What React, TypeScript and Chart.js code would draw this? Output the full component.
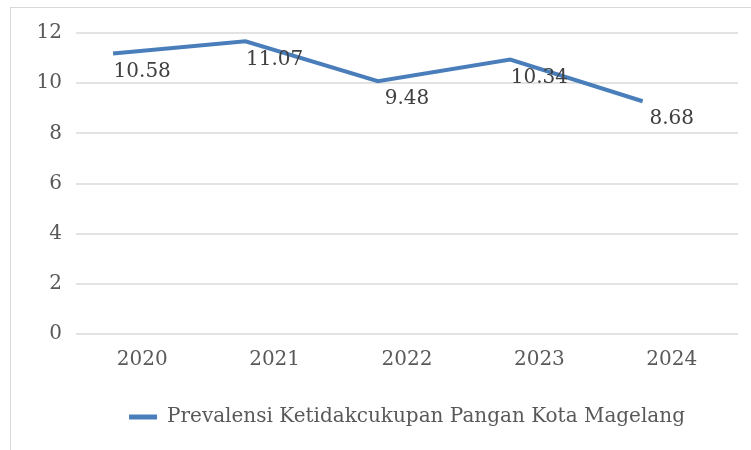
import React, { useEffect, useRef } from "react";
import { Chart, registerables } from "chart.js";

Chart.register(...registerables);

const categories = ["2020", "2021", "2022", "2023", "2024"];
const values = [10.58, 11.07, 9.48, 10.34, 8.68];
const valueLabels = ["10.58", "11.07", "9.48", "10.34", "8.68"];
const yTicks = [0, 2, 4, 6, 8, 10, 12];
const seriesName = "Prevalensi Ketidakcukupan Pangan Kota Magelang";

// In the source image the drawn line is offset from the data labels
const lineShiftY = 0.6;
const lineShiftX = 0.22;

const FONT = "'DejaVu Serif', serif";
const FONT_SIZE = 20;

export default function App() {
  const ref = useRef<HTMLCanvasElement | null>(null);
  useEffect(() => {
    const canvas = ref.current;
    if (!canvas) return;
    const framePlugin = {
      id: "frame",
      beforeDraw(chart: any) {
        const ctx = chart.ctx;
        ctx.save();
        ctx.fillStyle = "#ffffff";
        ctx.fillRect(0, 0, chart.width, chart.height);
        ctx.strokeStyle = "#d9d9d9";
        ctx.lineWidth = 1;
        ctx.strokeRect(10.5, 7.5, 900, 600);
        ctx.restore();
      },
    };
    const labelPlugin = {
      id: "valueLabels",
      afterDatasetsDraw(chart: any) {
        const ctx = chart.ctx;
        const xs = chart.scales.x;
        const ys = chart.scales.y;
        ctx.save();
        ctx.font = `${FONT_SIZE}px ${FONT}`;
        ctx.fillStyle = "#404040";
        ctx.textAlign = "center";
        ctx.textBaseline = "middle";
        values.forEach((v, i) => {
          ctx.fillText(valueLabels[i], xs.getPixelForValue(i), ys.getPixelForValue(v) + 3);
        });
        ctx.restore();
      },
    };
    const chart = new Chart(canvas, {
      type: "line",
      data: {
        labels: categories,
        datasets: [
          {
            label: seriesName,
            data: values.map((v, i) => ({ x: i, y: v })),
            xAxisID: "x2",
            yAxisID: "y2",
            borderColor: "#4a7ebb",
            backgroundColor: "#4a7ebb",
            borderWidth: 4,
            pointRadius: 0,
            tension: 0,
            fill: false,
          },
        ],
      },
      options: {
        responsive: false,
        animation: false,
        layout: { padding: { top: 33, right: 13, left: 0, bottom: 13 } },
        plugins: {
          tooltip: { enabled: false },
          legend: {
            position: "bottom",
            fullSize: false,
            labels: {
              font: { family: FONT, size: FONT_SIZE },
              color: "#595959",
              boxWidth: 28,
              boxHeight: 5,
              padding: 10,
              generateLabels: () => [
                {
                  text: seriesName,
                  fillStyle: "#4a7ebb",
                  strokeStyle: "#4a7ebb",
                  lineWidth: 0,
                  hidden: false,
                  datasetIndex: 0,
                  fontColor: "#595959",
                },
              ],
            },
          },
        },
        scales: {
          x: {
            type: "category",
            offset: true,
            grid: { display: false, drawTicks: false },
            border: { display: false },
            ticks: { font: { family: FONT, size: FONT_SIZE }, color: "#595959", padding: 14 },
            afterFit: (s: any) => {
              s.height = 63;
            },
          },
          y: {
            type: "linear",
            min: yTicks[0],
            max: yTicks[yTicks.length - 1],
            afterBuildTicks: (s: any) => {
              s.ticks = yTicks.map((v) => ({ value: v }));
            },
            grid: { color: "#e3e3e3", lineWidth: 2, drawTicks: false },
            border: { display: false },
            ticks: { font: { family: FONT, size: FONT_SIZE }, color: "#595959", padding: 14 },
            afterFit: (s: any) => {
              s.width = 76;
            },
          },
          x2: {
            type: "linear",
            display: false,
            min: -0.5 + lineShiftX,
            max: categories.length - 0.5 + lineShiftX,
          },
          y2: {
            type: "linear",
            display: false,
            min: yTicks[0] - lineShiftY,
            max: yTicks[yTicks.length - 1] - lineShiftY,
          },
        },
      },
      plugins: [framePlugin, labelPlugin],
    } as any);
    return () => chart.destroy();
  }, []);
  return (
    <div style={{ position: "fixed", left: 0, top: 0, width: 751, height: 450 }}>
      <canvas ref={ref} width={751} height={450} style={{ display: "block" }} />
    </div>
  );
}
